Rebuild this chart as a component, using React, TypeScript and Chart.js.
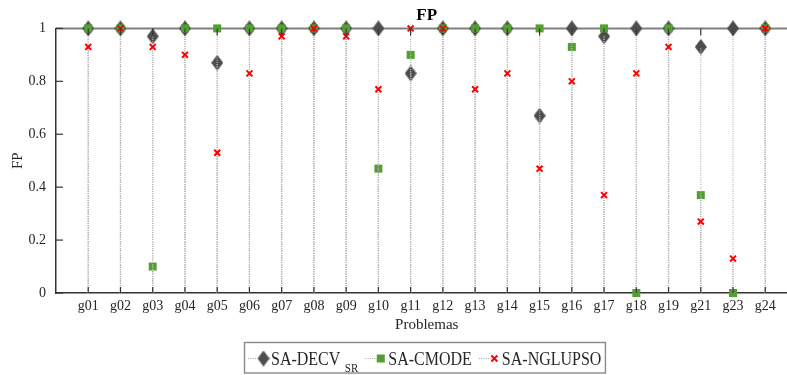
import React, { useEffect, useRef } from 'react';
import { Chart, registerables } from 'chart.js';

Chart.register(...registerables);

const categories = ['g01', 'g02', 'g03', 'g04', 'g05', 'g06', 'g07', 'g08', 'g09', 'g10', 'g11', 'g12', 'g13', 'g14', 'g15', 'g16', 'g17', 'g18', 'g19', 'g21', 'g23', 'g24'];
const decv = [1, 1, 0.97, 1, 0.87, 1, 1, 1, 1, 1, 0.83, 1, 1, 1, 0.67, 1, 0.97, 1, 1, 0.93, 1, 1];
const cmode = [1, 1, 0.1, 1, 1, 1, 1, 1, 1, 0.47, 0.9, 1, 1, 1, 1, 0.93, 1, 0, 1, 0.37, 0, 1];
const nglupso = [0.93, 1, 0.93, 0.9, 0.53, 0.83, 0.97, 1, 0.97, 0.77, 1, 1, 0.77, 0.83, 0.47, 0.8, 0.37, 0.83, 0.93, 0.27, 0.13, 1];
const yTicks = [0, 0.2, 0.4, 0.6, 0.8, 1];
const seriesNames = ['SA-DECV', 'SA-CMODE', 'SA-NGLUPSO'];
const seriesSub = ['SR', '', ''];

const DARK = '#4d4d4d';
const GREEN = '#52a032';
const RED = '#ff0000';
const AXIS = '#333333';
const COMB = '#b4b4b4';
const TEXT = '#262626';
const SERIF = '"Liberation Serif", "Times New Roman", serif';

function makeDiamond(w: number, h: number, color: string) {
  const c = document.createElement('canvas');
  c.width = w;
  c.height = h;
  const g = c.getContext('2d')!;
  g.fillStyle = color;
  g.beginPath();
  g.moveTo(w / 2, 0);
  g.lineTo(w, h / 2);
  g.lineTo(w / 2, h);
  g.lineTo(0, h / 2);
  g.closePath();
  g.fill();
  return c;
}

function toPoints(arr: number[]) {
  return arr.map((v, i) => ({ x: i + 1, y: v }));
}

function drawMarker(ctx: CanvasRenderingContext2D, kind: number, x: number, y: number, diamond: HTMLCanvasElement) {
  if (kind === 0) {
    ctx.drawImage(diamond, x - diamond.width / 2, y - diamond.height / 2);
  } else if (kind === 1) {
    ctx.fillStyle = GREEN;
    ctx.fillRect(x - 4, y - 4, 8, 8);
  } else {
    ctx.strokeStyle = RED;
    ctx.lineWidth = 2;
    ctx.setLineDash([]);
    ctx.beginPath();
    ctx.moveTo(x - 3, y - 3);
    ctx.lineTo(x + 3, y + 3);
    ctx.moveTo(x + 3, y - 3);
    ctx.lineTo(x - 3, y + 3);
    ctx.stroke();
  }
}

export default function App() {
  const ref = useRef<HTMLCanvasElement | null>(null);

  useEffect(() => {
    if (!ref.current) return;
    const diamond = makeDiamond(12, 16, DARK);
    const allSeries = [decv, cmode, nglupso];

    const decor = {
      id: 'decor',
      beforeDatasetsDraw(chart: any) {
        const { ctx, chartArea } = chart;
        ctx.save();
        ctx.strokeStyle = '#808080';
        ctx.lineWidth = 2;
        ctx.beginPath();
        ctx.moveTo(chartArea.left, chartArea.top);
        ctx.lineTo(chartArea.right, chartArea.top);
        ctx.stroke();
        ctx.restore();
      },
      afterDatasetDraw(chart: any, args: any) {
        if (args.index !== 1) return;
        const { ctx, chartArea, scales } = chart;
        const xs = scales.x;
        const ys = scales.y;
        ctx.save();
        ctx.beginPath();
        ctx.rect(chartArea.left, chartArea.top, chartArea.right - chartArea.left, chartArea.bottom - chartArea.top);
        ctx.clip();
        ctx.strokeStyle = COMB;
        ctx.lineWidth = 1.2;
        ctx.setLineDash([1, 1.3]);
        allSeries.forEach((arr) => {
          arr.forEach((v, i) => {
            const x = xs.getPixelForValue(i + 1);
            ctx.beginPath();
            ctx.moveTo(x, ys.getPixelForValue(0));
            ctx.lineTo(x, ys.getPixelForValue(v));
            ctx.stroke();
          });
        });
        ctx.restore();
      },
      afterDraw(chart: any) {
        const { ctx, chartArea, scales } = chart;
        const xs = scales.x;
        const ys = scales.y;
        ctx.save();
        // inward ticks
        ctx.strokeStyle = AXIS;
        ctx.lineWidth = 1.2;
        yTicks.forEach((v) => {
          const y = ys.getPixelForValue(v);
          ctx.beginPath();
          ctx.moveTo(chartArea.left, y);
          ctx.lineTo(chartArea.left + 7, y);
          ctx.stroke();
        });
        categories.forEach((_, i) => {
          const x = xs.getPixelForValue(i + 1);
          ctx.beginPath();
          ctx.moveTo(x, chartArea.bottom);
          ctx.lineTo(x, chartArea.bottom - 6);
          ctx.moveTo(x, chartArea.top);
          ctx.lineTo(x, chartArea.top + 7);
          ctx.stroke();
        });
        // legend
        const boxLeft = 244.5;
        const boxTop = 342.5;
        const boxBottom = 373;
        const baseline = 365;
        const midY = 358.5;
        let x = boxLeft + 3.5;
        seriesNames.forEach((name, k) => {
          ctx.strokeStyle = '#a8a8a8';
          ctx.lineWidth = 1.2;
          ctx.setLineDash([1, 1.3]);
          ctx.beginPath();
          ctx.moveTo(x, midY);
          ctx.lineTo(x + 13, midY);
          ctx.stroke();
          ctx.setLineDash([]);
          drawMarker(ctx, k, x + 15.5, midY, diamond);
          const tx = x + 23;
          ctx.fillStyle = TEXT;
          ctx.font = `16px ${SERIF}`;
          ctx.textAlign = 'left';
          ctx.textBaseline = 'alphabetic';
          ctx.save();
          ctx.translate(tx, baseline);
          ctx.scale(1, 1.22);
          ctx.fillText(name, 0, 0);
          ctx.restore();
          let end = tx + ctx.measureText(name).width;
          if (seriesSub[k]) {
            ctx.font = `11px ${SERIF}`;
            ctx.save();
            ctx.translate(end + 4.5, 372);
            ctx.scale(1, 1.15);
            ctx.fillText(seriesSub[k], 0, 0);
            ctx.restore();
            end = end + 4.5 + ctx.measureText(seriesSub[k]).width;
          }
          x = end + 7;
        });
        const boxRight = x - 3;
        ctx.strokeStyle = '#8a8a8a';
        ctx.lineWidth = 1.4;
        ctx.setLineDash([]);
        ctx.strokeRect(boxLeft, boxTop, boxRight - boxLeft, boxBottom - boxTop);
        ctx.restore();
      },
    };

    const chart = new Chart(ref.current, {
      type: 'scatter',
      data: {
        datasets: [
          {
            label: seriesNames[0],
            data: toPoints(decv),
            pointStyle: diamond as any,
            pointRadius: 7,
            backgroundColor: DARK,
            borderColor: DARK,
            order: 3,
            clip: false,
          },
          {
            label: seriesNames[1],
            data: toPoints(cmode),
            pointStyle: 'rect',
            pointRadius: 5.66,
            pointBorderWidth: 0,
            backgroundColor: GREEN,
            borderColor: GREEN,
            order: 2,
            clip: false,
          },
          {
            label: seriesNames[2],
            data: toPoints(nglupso),
            pointStyle: 'crossRot',
            pointRadius: 4.2,
            pointBorderWidth: 2,
            backgroundColor: RED,
            borderColor: RED,
            order: 1,
            clip: false,
          },
        ] as any,
      },
      options: {
        responsive: false,
        animation: false,
        devicePixelRatio: 1,
        events: [],
        layout: { padding: { left: 0, right: 2.5, top: 0, bottom: 37 }, autoPadding: false },
        plugins: {
          legend: { display: false },
          tooltip: { enabled: false },
          title: {
            display: true,
            text: 'FP',
            fullSize: false,
            color: '#000',
            font: { family: SERIF, size: 17, weight: 'bold' },
            padding: { top: 5, bottom: 3 },
          },
        },
        scales: {
          x: {
            type: 'linear',
            min: 0,
            max: 23,
            afterBuildTicks: (scale: any) => {
              scale.ticks = categories.map((_, i) => ({ value: i + 1 }));
            },
            afterFit: (scale: any) => {
              scale.height = 45;
            },
            ticks: {
              autoSkip: false,
              maxRotation: 0,
              padding: 5,
              color: TEXT,
              font: { family: SERIF, size: 14 },
              callback: (v: any) => categories[Number(v) - 1] ?? '',
            },
            grid: { display: false, drawTicks: false },
            border: { display: true, color: AXIS, width: 1.6 },
            title: {
              display: true,
              text: 'Problemas',
              color: TEXT,
              font: { family: SERIF, size: 15 },
              padding: { top: 0, bottom: 4 },
            },
          },
          y: {
            type: 'linear',
            min: 0,
            max: 1,
            afterBuildTicks: (scale: any) => {
              scale.ticks = yTicks.map((v) => ({ value: v }));
            },
            afterFit: (scale: any) => {
              scale.width = 56;
            },
            ticks: {
              padding: 10,
              color: TEXT,
              font: { family: SERIF, size: 14 },
              callback: (v: any) => String(v),
            },
            grid: { display: false, drawTicks: false },
            border: { display: true, color: AXIS, width: 1.5 },
            title: {
              display: true,
              text: 'FP',
              color: TEXT,
              font: { family: SERIF, size: 15 },
              padding: { top: 9, bottom: 0 },
            },
          },
        },
      } as any,
      plugins: [decor as any],
    });
    return () => chart.destroy();
  }, []);

  return (
    <div style={{ position: 'fixed', left: 0, top: 0, width: 787, height: 375, overflow: 'hidden', background: '#fff' }}>
      <canvas ref={ref} width={800} height={375} style={{ width: 800, height: 375, display: 'block' }} />
    </div>
  );
}
